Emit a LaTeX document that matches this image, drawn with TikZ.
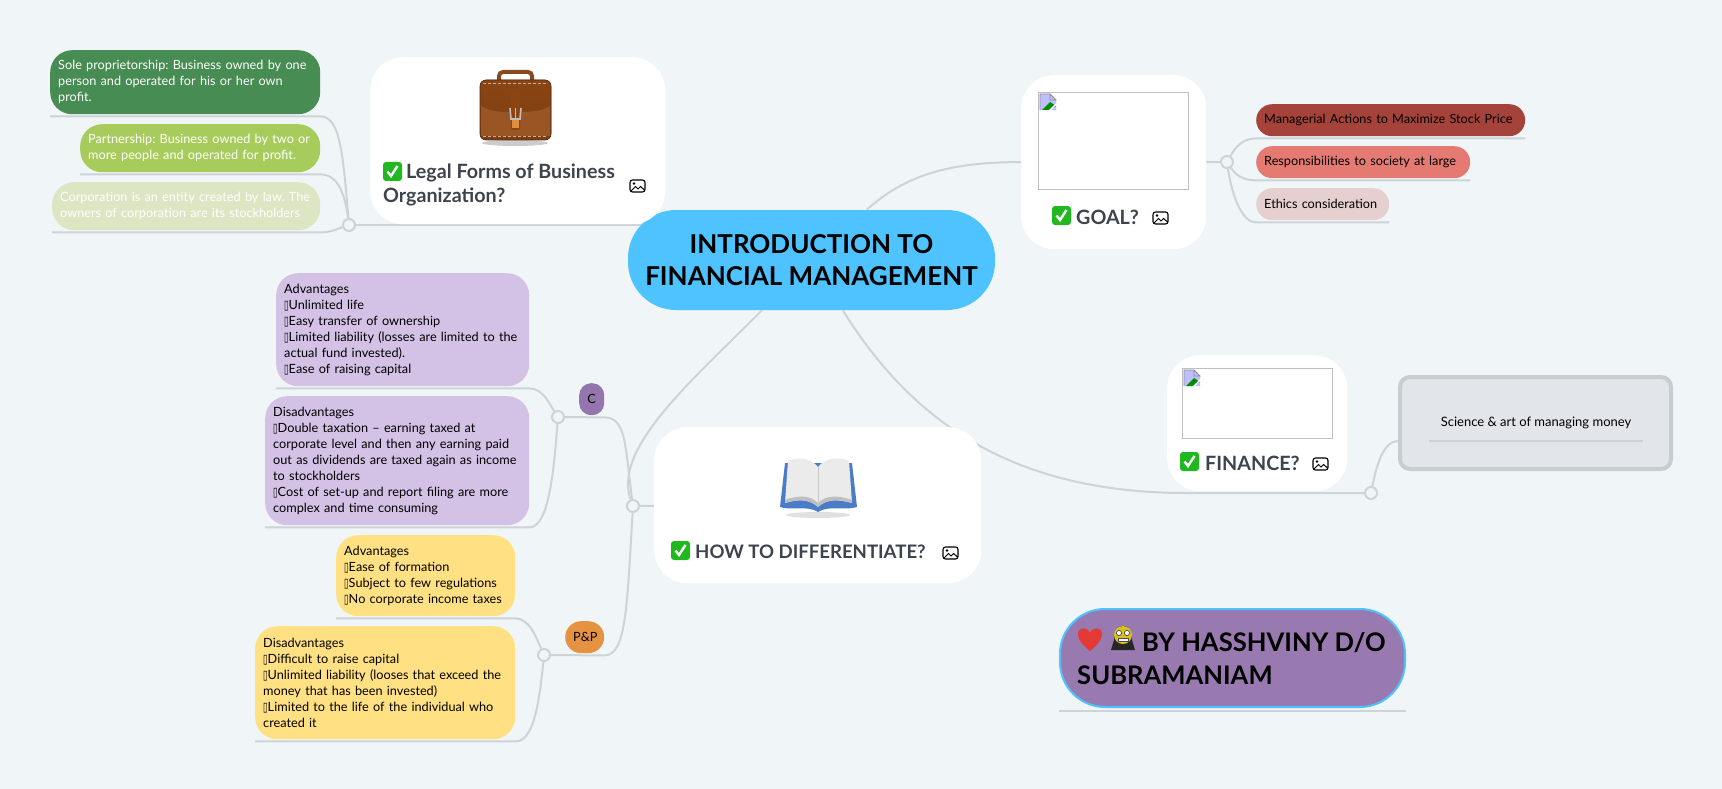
\documentclass[tikz,border=0pt]{standalone}
\usepackage{fontspec}
\setmainfont{Lato}
\newfontfamily\symfont{DejaVu Sans}
\usetikzlibrary{backgrounds}
\definecolor{bgc}{HTML}{F0F5F8}
\definecolor{linkc}{HTML}{CDD3D7}
\definecolor{rootc}{HTML}{4FC3FF}
\definecolor{titlec}{HTML}{3D444D}
\definecolor{solec}{HTML}{468C53}
\definecolor{partc}{HTML}{A8CC5C}
\definecolor{corpc}{HTML}{DCE6C3}
\definecolor{purplec}{HTML}{D4C2E6}
\definecolor{cnodec}{HTML}{9575AE}
\definecolor{yellowc}{HTML}{FFE082}
\definecolor{pnodec}{HTML}{E59340}
\definecolor{mgrc}{HTML}{A5423A}
\definecolor{respc}{HTML}{E57A73}
\definecolor{ethc}{HTML}{E5CFCF}
\definecolor{boxc}{HTML}{E2E6EA}
\definecolor{boxline}{HTML}{C8CDD1}
\definecolor{authorc}{HTML}{9879B0}
\definecolor{checkc}{HTML}{1FB81F}
\definecolor{leathertop}{HTML}{8B4513}
\definecolor{leatherlow}{HTML}{7A3E14}
\definecolor{pocketc}{HTML}{9A5524}
\definecolor{handlec}{HTML}{8A4A20}
\definecolor{coverc}{HTML}{4A7CC8}
\definecolor{heartc}{HTML}{E53935}
\newcommand{\tofu}{\scalebox{.65}[1]{\symfont ▯}}
\newcommand{\leaffont}{\fontsize{12.7}{16}\selectfont\frenchspacing\hyphenpenalty 10000\relax}
\tikzset{
  link/.style={draw=linkc,line width=2pt},
  dot/.style={circle,draw=linkc,fill=bgc,line width=2pt,minimum size=12pt,inner sep=0pt},
  card/.style={fill=white,rounded corners=33pt,anchor=north west,inner sep=0pt},
  leaf/.style={anchor=north west,inner xsep=8pt,inner ysep=0pt,align=left,rounded corners=22pt,
    font=\leaffont},
  pill/.style={leaf,rounded corners=16pt,minimum height=32pt},
  title/.style={anchor=west,inner sep=0pt,align=left,text=titlec,
    font=\fontsize{19.7}{24}\selectfont\bfseries},
  hole/.style={draw=black!25,line width=1pt,anchor=north west,inner sep=0pt},
  checkbox/.pic={
    \fill[checkc,rounded corners=3pt] (0,0) rectangle (19,19);
    \draw[white,line width=2.4pt] (4.5,9.5) -- (8,14) -- (14.5,4);
  },
  picicon/.pic={
    \draw[black,line width=1.1pt,rounded corners=2.5pt] (0,0) rectangle (15,12);
    \fill (4,3.5) circle (1.4pt);
    \draw[black,line width=1pt] (1,11) -- (5.5,6.5) -- (8,9) -- (10.5,6.5) -- (14.5,10);
  },
  brokenimg/.pic={
    \fill[blue!25] (0,0) -- (10,0) -- (16,6) -- (16,16) -- (0,16) -- cycle;
    \fill[green!55!black] (2,16) -- (10,8) -- (16,12) -- (8,16) -- cycle;
    \draw[black!45,line width=.8pt] (0,16) -- (0,0) -- (10,0) -- (16,6) -- (10,6) -- (10,0);
    \draw[white,line width=1.4pt] (10,16) -- (16,10);
  },
  briefcase/.pic={
    \fill[black!20] (35,73) ellipse (33pt and 3pt);
    \draw[handlec,line width=4pt,rounded corners=4pt] (19,14) -- (19,2) -- (52,2) -- (52,14);
    \fill[rounded corners=6pt,draw=leatherlow!70!black,line width=.6pt,top color=leathertop,bottom color=leatherlow] (0,10) rectangle (71,70);
    \fill[pocketc] (1,36) .. controls (12,42) and (20,42) .. (35,42) .. controls (50,42) and (60,42) .. (70,36) -- (70,66) -- (1,66) -- cycle;
    \draw[pocketc!50!white,densely dashed,line width=.5pt] (3,13) -- (68,13);
    \draw[pocketc!50!white,densely dashed,line width=.5pt] (3,66) -- (68,66);
    \fill[leathertop,rounded corners=2pt] (31,20) rectangle (40,60);
    \draw[black!25,line width=1.6pt] (30,38) -- (31,49) -- (40,49) -- (41,38);
    \draw[black!25,line width=1.4pt] (35.5,38) -- (35.5,49);
    \fill[pnodec!80!brown] (32,50) rectangle (39,58);
  },
  openbook/.pic={
    \fill[black!12] (38,58) ellipse (32pt and 3pt);
    \fill[coverc] (5,6) -- (0,50) .. controls (12,54) and (28,48) .. (38,55) .. controls (48,48) and (64,54) .. (77,50) -- (72,6) -- cycle;
    \fill[black!8] (38,10) .. controls (30,0) and (16,0) .. (8,4) -- (5,46) .. controls (18,42) and (30,42) .. (38,50) -- cycle;
    \fill[black!8] (38,10) .. controls (46,0) and (60,0) .. (69,4) -- (72,46) .. controls (58,42) and (46,42) .. (38,50) -- cycle;
    \fill[black!25] (5,46) .. controls (18,42) and (30,42) .. (38,50) .. controls (46,42) and (58,42) .. (72,46) -- (72,43) .. controls (58,38) and (46,38) .. (38,46) .. controls (30,38) and (18,38) .. (5,43) -- cycle;
    \draw[black!22,line width=1pt] (38,10) -- (38,47);
  },
  redheart/.pic={
    \fill[heartc] (12,23) .. controls (2,15) and (0,10) .. (0,6) .. controls (0,-1) and (9,-2) .. (12,5) .. controls (15,-2) and (24,-1) .. (24,6) .. controls (24,10) and (22,15) .. (12,23) -- cycle;
  },
  faceicon/.pic={
    \fill[black!85] (12,0) .. controls (20,0) and (21,8) .. (21,14) -- (24,24) -- (0,24) -- (3,14) .. controls (3,8) and (4,0) .. (12,0) -- cycle;
    \fill[yellow!75!orange!85!black] (12,9) circle (9pt);
    \draw[black!70,fill=white,line width=.7pt] (8,7) circle (2.6pt) (16,7) circle (2.6pt);
    \fill[white] (7,12) rectangle (17,15);
    \draw[black!70,line width=.5pt] (7,12) rectangle (17,15);
  }
}
\begin{document}
\begin{tikzpicture}[x=1pt,y=-1pt]
  \useasboundingbox (0,0) rectangle (1722,789);
  \node[fill=rootc,rounded corners=48pt,minimum width=367pt,minimum height=100pt,inner sep=0pt,align=center,
    font=\fontsize{26}{32}\selectfont\bfseries] (root) at (811.5,260) {INTRODUCTION TO\\FINANCIAL MANAGEMENT};

  \node[card,minimum width=295pt,minimum height=167pt] (legal) at (370,57) {};
  \pic at (480,70) {briefcase};
  \pic at (383,162) {checkbox};
  \node[title] (legaltitle) at (383,185) {\hspace*{23pt}Legal Forms of Business\\Organization?};
  \pic at (630,180) {picicon};

  \node[leaf,fill=solec,text=white,text width=254pt,minimum height=64pt] (sole) at (50,50)
    {Sole proprietorship: Business owned by one\\person and operated for his or her own\\profit.};
  \node[leaf,fill=partc,text=white,text width=224pt,minimum height=48pt] (part) at (80,124)
    {Partnership: Business owned by two or\\more people and operated for profit.};
  \node[leaf,fill=corpc,text=white,text width=252pt,minimum height=48pt] (corp) at (52,182)
    {Corporation is an entity created by law. The\\owners of corporation are its stockholders};
  \node[dot] (legaldot) at (349,225) {};

  \node[card,minimum width=327pt,minimum height=156pt] (book) at (654,427) {};
  \pic at (780,457) {openbook};
  \pic at (671,541) {checkbox};
  \node[title,font=\fontsize{18.6}{24}\selectfont\bfseries] (booktitle) at (695,552) {HOW TO DIFFERENTIATE?};
  \pic at (943,547) {picicon};
  \node[dot] (bookdot) at (633,506) {};

  \node[leaf,fill=purplec,text width=237pt,minimum height=113pt] (cadv) at (276,273)
    {Advantages\\\tofu Unlimited life\\\tofu Easy transfer of ownership\\\tofu Limited liability (losses are limited to the\\actual fund invested).\\\tofu Ease of raising capital};
  \node[leaf,fill=purplec,text width=248pt,minimum height=129pt] (cdis) at (265,396)
    {Disadvantages\\\tofu Double taxation -- earning taxed at\\corporate level and then any earning paid\\out as dividends are taxed again as income\\to stockholders\\\tofu Cost of set-up and report filing are more\\complex and time consuming};
  \node[pill,fill=cnodec,rounded corners=12pt,text width=9pt,align=center] (cnode) at (579,383) {C};
  \node[dot] (cdot) at (558,417) {};

  \node[leaf,fill=yellowc,text width=163pt,minimum height=81pt] (padv) at (336,535)
    {Advantages\\\tofu Ease of formation\\\tofu Subject to few regulations\\\tofu No corporate income taxes};
  \node[leaf,fill=yellowc,text width=244pt,minimum height=113pt] (pdis) at (255,626)
    {Disadvantages\\\tofu Difficult to raise capital\\\tofu Unlimited liability (looses that exceed the\\money that has been invested)\\\tofu Limited to the life of the individual who\\created it};
  \node[pill,fill=pnodec,text width=23pt,align=center] (pnode) at (565,621) {P\&P};
  \node[dot] (pdot) at (544,655) {};

  \node[card,minimum width=185pt,minimum height=174pt] (goal) at (1021,75) {};
  \node[hole,minimum width=150pt,minimum height=97pt] (goalimg) at (1038,92) {};
  \pic at (1040,94) {brokenimg};
  \pic at (1052,206) {checkbox};
  \node[title] (goaltitle) at (1076,217) {GOAL?};
  \pic at (1153,212) {picicon};
  \node[dot] (goaldot) at (1227,162) {};
  \node[pill,fill=mgrc,text width=253pt] (mgr) at (1256,104) {Managerial Actions to Maximize Stock Price};
  \node[pill,fill=respc,text width=198pt] (resp) at (1256,146) {Responsibilities to society at large};
  \node[pill,fill=ethc,text width=117pt] (eth) at (1256,188) {Ethics consideration};

  \node[card,minimum width=180pt,minimum height=136pt] (fin) at (1167,355) {};
  \node[hole,minimum width=150pt,minimum height=70pt] (finimg) at (1182,368) {};
  \pic at (1184,370) {brokenimg};
  \pic at (1180,452) {checkbox};
  \node[title] (fintitle) at (1205,463) {FINANCE?};
  \pic at (1313,458) {picicon};
  \node[dot] (findot) at (1371,493) {};
  \node[draw=boxline,fill=boxc,line width=4pt,rounded corners=10pt,minimum width=271pt,minimum height=92pt] (money) at (1535.5,423) {};
  \node[minimum width=213pt,minimum height=36pt,inner sep=0pt,font=\fontsize{13}{16}\selectfont] (science) at (1536,423) {Science \& art of managing money};
  \draw[link] (science.south west) -- (science.south east);

  \node[draw=rootc,fill=authorc,line width=2pt,rounded corners=45pt,minimum width=345pt,minimum height=98pt] (author) at (1232.5,658) {};
  \pic at (1078,628) {redheart};
  \pic at (1111,626) {faceicon};
  \node[anchor=west,inner sep=0pt,align=left,font=\fontsize{25.6}{33}\selectfont\bfseries] (authortext) at (1077,658.5)
    {\hspace*{65pt}BY HASSHVINY D/O\\SUBRAMANIAM};
  \draw[link] ([yshift=-3pt]author.south west) -- ([yshift=-3pt]author.south east);

  \begin{pgfonlayer}{background}
    \fill[bgc] (0,0) rectangle (1722,789);
    \draw[link] (legaldot) -- (root.center |- legaldot);
    \draw[link] ([yshift=-2pt]sole.south west) -- ([yshift=-2pt]sole.south east) .. controls +(20,0) and +(-6,-70) .. (legaldot);
    \draw[link] ([yshift=-2pt]part.south west) -- ([yshift=-2pt]part.south east) .. controls +(18,0) and +(-4,-30) .. (legaldot);
    \draw[link] ([yshift=-2pt]corp.south west) -- ([yshift=-2pt]corp.south east) .. controls +(12,0) and +(-10,3) .. (legaldot);

    \draw[link] (root) .. controls (695,378) and (612,448) .. (bookdot);
    \draw[link] (bookdot) -- (book);
    \draw[link] (cdot) -- ([yshift=-2pt]cnode.south east) .. controls +(22,0) and +(-8,-60) .. (bookdot);
    \draw[link] (pdot) -- ([yshift=-2pt]pnode.south east) .. controls +(22,0) and +(-6,100) .. (bookdot);
    \draw[link] ([yshift=-2pt]cadv.south west) -- ([yshift=-2pt]cadv.south east) .. controls +(14,0) and +(-8,-12) .. (cdot);
    \draw[link] ([yshift=-2pt]cdis.south west) -- ([yshift=-2pt]cdis.south east) .. controls +(20,0) and +(-4,50) .. (cdot);
    \draw[link] ([yshift=-2pt]padv.south west) -- ([yshift=-2pt]padv.south east) .. controls +(14,0) and +(-8,-18) .. (pdot);
    \draw[link] ([yshift=-2pt]pdis.south west) -- ([yshift=-2pt]pdis.south east) .. controls +(18,0) and +(-5,50) .. (pdot);

    \draw[link] (root) .. controls (905,175) and (950,162) .. (goal);
    \draw[link] (goal) -- (goaldot);
    \draw[link] (goaldot) .. controls +(8,-14) and +(-14,0) .. ([yshift=-2pt]mgr.south west) -- ([yshift=-2pt]mgr.south east);
    \draw[link] (goaldot) .. controls +(8,12) and +(-14,0) .. ([yshift=-2pt]resp.south west) -- ([yshift=-2pt]resp.south east);
    \draw[link] (goaldot) .. controls +(6,40) and +(-12,0) .. ([yshift=-2pt]eth.south west) -- ([yshift=-2pt]eth.south east);

    \draw[link] (root) .. controls (905,410) and (1000,493) .. (1186,493) -- (findot);
    \draw[link] (findot) .. controls +(6,-30) and +(-14,0) .. ([yshift=-18pt]money.west);
  \end{pgfonlayer}
\end{tikzpicture}
\end{document}
